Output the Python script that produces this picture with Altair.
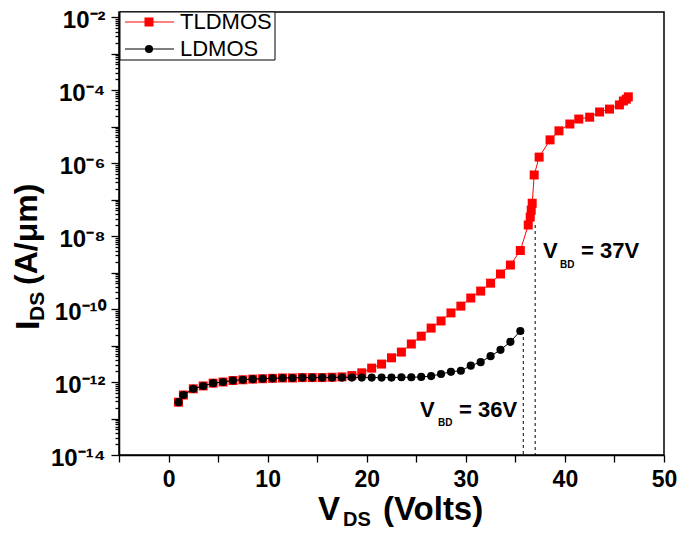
import altair as alt
import pandas as pd
import json

# ---------------- data ----------------
vds_tldmos = [1, 1.5, 2.5, 3.5, 4.5, 5.5, 6.5, 7.5, 8.5, 9.5, 10.5, 11.5, 12.5, 13.5,
              14.5, 15.5, 16.5, 17.5, 18.5, 19.5, 20.5, 21.5, 22.5, 23.5, 24.5, 25.5,
              26.5, 27.5, 28.5, 29.5, 30.5, 31.5, 32.5, 33.5, 34.5, 35.5, 36.3, 36.5,
              36.6, 36.7, 36.9, 37.4, 38.5, 39.4, 40.5, 41.4, 42.5, 43.5, 44.5, 45.5,
              45.9, 46.2, 46.4]
ids_tldmos = [2.8e-13, 4.4e-13, 6.5e-13, 7.8e-13, 9.3e-13, 1.0e-12, 1.1e-12, 1.15e-12,
              1.2e-12, 1.23e-12, 1.26e-12, 1.29e-12, 1.29e-12, 1.32e-12, 1.32e-12,
              1.32e-12, 1.35e-12, 1.38e-12, 1.5e-12, 1.78e-12, 2.4e-12, 3.1e-12,
              4.6e-12, 6.6e-12, 1.1e-11, 1.8e-11, 3.0e-11, 4.7e-11, 7.8e-11, 1.2e-10,
              2.0e-10, 3.1e-10, 5.1e-10, 9.1e-10, 1.6e-9, 4.0e-9, 2.0e-8, 3.3e-8,
              5.1e-8, 7.9e-8, 4.7e-7, 1.45e-6, 4.3e-6, 7.6e-6, 1.17e-5, 1.6e-5,
              1.8e-5, 2.5e-5, 3.0e-5, 3.9e-5, 5.0e-5, 5.6e-5, 6.5e-5]

vds_ldmos = [1, 1.5, 2.5, 3.5, 4.5, 5.5, 6.5, 7.5, 8.5, 9.5, 10.5, 11.5, 12.5, 13.5,
             14.5, 15.5, 16.5, 17.5, 18.5, 19.5, 20.5, 21.5, 22.5, 23.5, 24.5, 25.5,
             26.5, 27.5, 28.5, 29.5, 30.5, 31.5, 32.5, 33.5, 34.5, 35.5]
ids_ldmos = [2.8e-13, 4.4e-13, 6.5e-13, 7.8e-13, 9.3e-13, 1.0e-12, 1.1e-12, 1.15e-12,
             1.2e-12, 1.23e-12, 1.26e-12, 1.29e-12, 1.29e-12, 1.32e-12, 1.32e-12,
             1.32e-12, 1.32e-12, 1.32e-12, 1.32e-12, 1.32e-12, 1.32e-12, 1.32e-12,
             1.32e-12, 1.35e-12, 1.35e-12, 1.38e-12, 1.45e-12, 1.66e-12, 1.9e-12,
             2.04e-12, 2.8e-12, 3.5e-12, 5.1e-12, 7.6e-12, 1.26e-11, 2.5e-11]

series_names = ["TLDMOS", "LDMOS"]
series_colors = ["#ff0000", "#000000"]

vbd_volts = [35.8, 37.0]
vbd_top = [2.5e-11, 2.0e-8]
vbd_bottom = 1e-14

x_ticks = [-5, 0, 5, 10, 15, 20, 25, 30, 35, 40, 45, 50]
y_tick_labels = ["10⁻¹⁴", "10⁻¹²", "10⁻¹⁰", "10⁻⁸", "10⁻⁶", "10⁻⁴", "10⁻²"]

# ---------------- chart ----------------
FONT = "Liberation Sans"
y_min, y_max = 1e-14, 10 ** -1.863
y_ticks = [k * 10.0 ** n for n in range(-14, -2) for k in range(1, 10)] + [1e-2]

LOG = "(log(datum.value)/LN10)"
is_decade = f"abs({LOG} - round({LOG})) < 0.001"
y_label_expr = (f"{is_decade} && round({LOG}) % 2 == 0 ? "
                f"{json.dumps(y_tick_labels, ensure_ascii=False)}[(round({LOG}) + 14) / 2] : ''")

x_scale = alt.Scale(domain=[-5, 50], nice=False, zero=False)
y_scale = alt.Scale(type="log", domain=[y_min, y_max], nice=False)

x_axis = alt.Axis(values=x_ticks, title=None, tickSize=7, labelFontSize=23,
                  labelExpr="datum.value >= 0 && datum.value % 10 == 0 ? datum.label : ''",
                  labelPadding=6, labelOverlap=False, labelFlush=False)
y_axis = alt.Axis(values=y_ticks, title=None,
                  tickSize={"condition": {"test": is_decade, "value": 8}, "value": 4},
                  labelExpr=y_label_expr, labelPadding=6, labelOffset=3, labelOverlap=False,
                  labelFlush=False)


def X(field):
    return alt.X(f"{field}:Q", scale=x_scale, axis=x_axis)


def Y(field):
    return alt.Y(f"{field}:Q", scale=y_scale, axis=y_axis)


df_t = pd.DataFrame({"V": vds_tldmos, "I": ids_tldmos})
df_l = pd.DataFrame({"V": vds_ldmos, "I": ids_ldmos})
df_vbd = pd.DataFrame({"V": vbd_volts, "top": vbd_top, "bottom": [vbd_bottom] * len(vbd_volts)})
one = pd.DataFrame({"a": [0]})

t_line = alt.Chart(df_t).mark_line(color=series_colors[0], strokeWidth=1).encode(x=X("V"), y=Y("I"))
t_pts = alt.Chart(df_t).mark_point(shape="square", filled=True, size=81, opacity=1,
                                   color=series_colors[0]).encode(x=X("V"), y=Y("I"))
l_line = alt.Chart(df_l).mark_line(color=series_colors[1], strokeWidth=1).encode(x=X("V"), y=Y("I"))
l_pts = alt.Chart(df_l).mark_point(shape="circle", filled=True, size=66, opacity=1,
                                   color=series_colors[1]).encode(x=X("V"), y=Y("I"))

vbd_rules = alt.Chart(df_vbd).mark_rule(color="black", strokeWidth=1, strokeDash=[3, 3]).encode(
    x=X("V"), y=Y("top"), y2="bottom:Q")


def txt(text, x, y, size, weight="bold", angle=0, align="left", baseline="alphabetic"):
    kw = dict(text=text, font=FONT, fontSize=size, fontWeight=weight, color="black",
              align=align, baseline=baseline)
    if angle:
        kw["angle"] = angle
    return alt.Chart(one).mark_text(**kw).encode(x=alt.value(x), y=alt.value(y))


# legend (drawn by hand: line + marker symbols)
leg_box = alt.Chart(one).mark_rect(fill="white", stroke="black", strokeWidth=1).encode(
    x=alt.value(1), x2=alt.value(156), y=alt.value(0), y2=alt.value(48))
leg_layers = [leg_box]
for i, (name, col, shp, sz) in enumerate(zip(series_names, series_colors,
                                             ["square", "circle"], [81, 66])):
    yy = 10 + 27 * i
    leg_layers.append(alt.Chart(one).mark_rule(color=col, strokeWidth=1.2).encode(
        x=alt.value(6), x2=alt.value(55), y=alt.value(yy)))
    leg_layers.append(alt.Chart(one).mark_point(shape=shp, filled=True, size=sz, opacity=1,
                                                color=col).encode(x=alt.value(30), y=alt.value(yy)))
    leg_layers.append(txt(name, 61, yy, 22, weight="normal", baseline="middle"))

annotations = [
    txt("V", 424, 246, 22),
    txt("BD", 441, 256, 10),
    txt("= 37V", 462, 246, 22),
    txt("V", 301, 405, 22),
    txt("BD", 319, 414, 10),
    txt("= 36V", 340, 405, 22),
    # x-axis title
    txt("V", 199, 508, 33),
    txt("DS", 224, 514, 20),
    txt("(Volts)", 264, 508, 33),
    # y-axis title (rotated)
    txt("I", -80, 318, 34, angle=270),
    txt("DS", -75, 309, 21, angle=270),
    txt("(A/μm)", -82, 273, 32, angle=270),
]

chart = alt.layer(
    t_line, t_pts, l_line, l_pts, vbd_rules, *leg_layers, *annotations
).properties(
    width=545, height=443,
    autosize="none",
    padding={"left": 111, "top": 4, "right": 13, "bottom": 75},
).configure_view(
    stroke="black", strokeWidth=1.5
).configure_axis(
    domainColor="black", domainWidth=1.5, tickColor="black", tickWidth=1.3, grid=False,
    labelFont=FONT, labelFontWeight="bold", labelFontSize=24, labelColor="black"
)

chart.save("out.html", embed_options={"renderer": "svg", "actions": False})
